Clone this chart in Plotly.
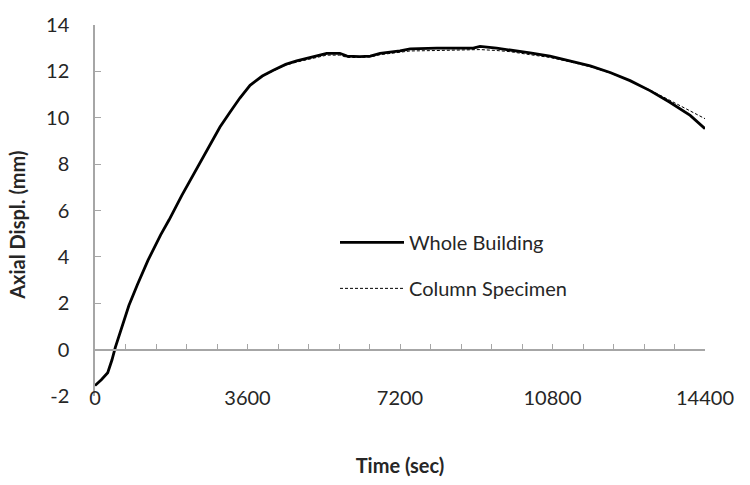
import plotly.graph_objects as go

# ---- data ----
time_s = [0, 150, 300, 400, 480, 600, 800, 1000, 1250, 1550, 1750, 2050, 2250, 2500,
          2720, 2950, 3190, 3420, 3660, 3950, 4210, 4500, 4760, 5080, 5470, 5780,
          5950, 6250, 6500, 6730, 7200, 7440, 8070, 8930, 9090, 9480, 9800, 10270,
          10740, 11200, 11690, 12160, 12630, 13100, 13570, 14050, 14400]

whole_building = [-1.55, -1.3, -1.0, -0.45, 0.1, 0.75, 1.9, 2.8, 3.85, 4.95, 5.6, 6.65, 7.3, 8.1,
                  8.85, 9.6, 10.25, 10.85, 11.4, 11.8, 12.05, 12.3, 12.45, 12.6, 12.78, 12.78,
                  12.66, 12.64, 12.66, 12.78, 12.88, 12.97, 13.0, 13.0, 13.08, 13.0, 12.93, 12.8,
                  12.66, 12.45, 12.24, 11.95, 11.6, 11.17, 10.67, 10.1, 9.53]

column_specimen = [-1.55, -1.3, -1.0, -0.45, 0.1, 0.75, 1.9, 2.8, 3.85, 4.95, 5.6, 6.65, 7.3, 8.1,
                   8.85, 9.6, 10.25, 10.85, 11.4, 11.78, 12.02, 12.27, 12.4, 12.55, 12.7, 12.7,
                   12.6, 12.6, 12.62, 12.72, 12.82, 12.88, 12.9, 12.92, 12.94, 12.9, 12.85, 12.72,
                   12.6, 12.42, 12.2, 11.93, 11.6, 11.2, 10.75, 10.3, 9.96]

x_tick_vals = [0, 3600, 7200, 10800, 14400]
x_tick_text = ["0", "3600", "7200", "10800", "14400"]
y_tick_vals = [-2, 0, 2, 4, 6, 8, 10, 12, 14]
y_tick_text = ["-2", "0", "2", "4", "6", "8", "10", "12", "14"]

FONT = "Lato"
TXT = "#262626"
AXC = "#a6a6a6"

fig = go.Figure()
fig.add_trace(go.Scatter(x=time_s, y=whole_building, mode="lines", name="Whole Building",
                         legendgroup="a",
                         line=dict(color="black", width=2.8)))
fig.add_trace(go.Scatter(x=time_s, y=column_specimen, mode="lines", name="Column Specimen",
                         legendgroup="b",
                         line=dict(color="black", width=1, dash="3px,2px")))

fig.update_layout(
    width=750, height=485, autosize=False,
    margin=dict(l=95, r=45, t=21, b=89),
    plot_bgcolor="white", paper_bgcolor="white",
    font=dict(family=FONT, size=20, color=TXT),
    showlegend=True,
    legend=dict(x=(335 - 95) / 610, y=(396 - 221) / 375, xanchor="left", yanchor="top",
                bgcolor="rgba(0,0,0,0)", font=dict(family=FONT, size=20, color=TXT),
                itemwidth=64, tracegroupgap=17, traceorder="grouped"),
    xaxis=dict(range=[0, 14400], tickvals=x_tick_vals, ticktext=x_tick_text,
               showline=False, ticks="", showgrid=False, zeroline=False,
               ticklabelstandoff=-12,
               tickfont=dict(family=FONT, size=20, color=TXT),
               title=dict(text="Time (sec)", standoff=50,
                          font=dict(family=FONT, size=20, color=TXT, weight="bold"))),
    xaxis2=dict(matches="x", overlaying="x", anchor="free", position=0.125,
                showline=True, linecolor=AXC, linewidth=1.5,
                ticks="inside", tick0=0, dtick=720, ticklen=5, tickcolor=AXC, tickwidth=1.2,
                showticklabels=False, showgrid=False, zeroline=False),
    yaxis=dict(range=[-2, 14], tickvals=y_tick_vals, ticktext=y_tick_text,
               showline=True, linecolor=AXC, linewidth=1.5,
               ticks="inside", ticklen=6, tickcolor=AXC, tickwidth=1.2,
               showgrid=False, zeroline=False, ticklabelstandoff=20,
               tickfont=dict(family=FONT, size=20, color=TXT)),
    annotations=[dict(text="Axial Displ. (mm)", xref="paper", yref="paper",
                      x=(17 - 95) / 610, y=(396 - 224) / 375, showarrow=False,
                      textangle=-90, xanchor="center", yanchor="middle",
                      font=dict(family=FONT, size=20, color=TXT, weight="bold"))],
)

# invisible helper so the y=0 axis (xaxis2) is part of a subplot
fig.add_trace(go.Scatter(x=[0, 14400], y=[None, None], xaxis="x2", yaxis="y",
                         showlegend=False, hoverinfo="skip", mode="lines"))

fig.write_html("out.html")
